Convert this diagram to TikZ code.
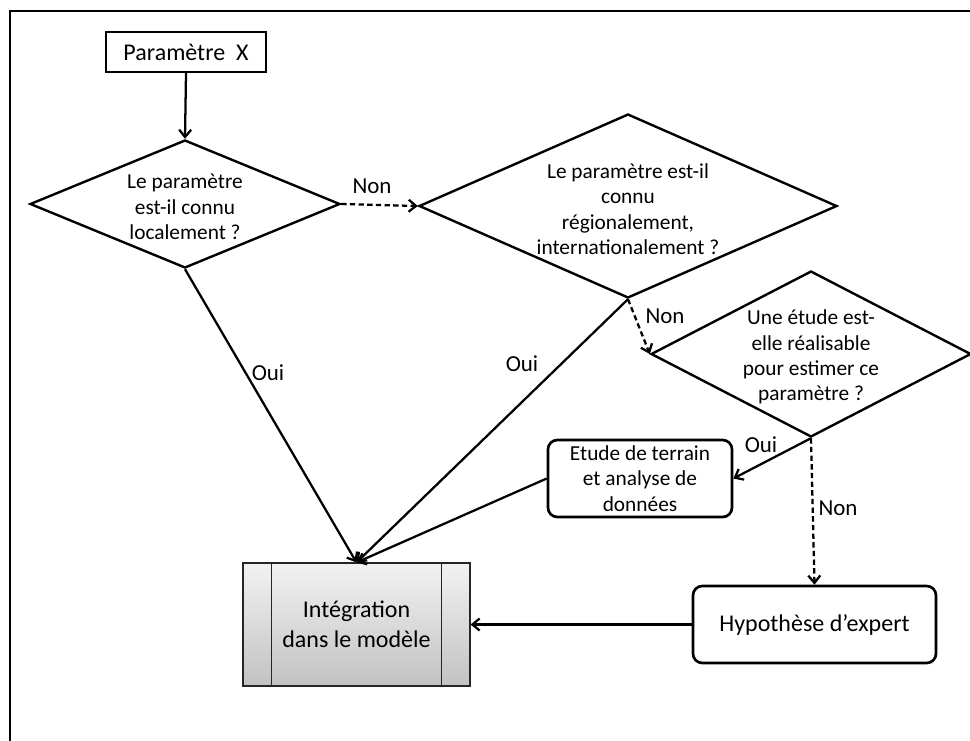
\documentclass[tikz,border=0pt]{standalone}
\usepackage{fontspec}
\setmainfont{Carlito}
\usetikzlibrary{shapes.geometric,arrows.meta}

\begin{document}
\begin{tikzpicture}[x=0.75pt,y=0.75pt,yscale=-1,
  smalltxt/.style={inner sep=0pt,align=center,font=\fontsize{16}{19}\selectfont},
  bigtxt/.style={inner sep=0pt,align=center,font=\fontsize{18}{22.5}\selectfont},
  lbl/.style={inner sep=0pt,font=\fontsize{17.2}{20}\selectfont},
  decision/.style={diamond,draw,line width=1.8pt,inner sep=0pt},
  startbox/.style={rectangle,draw,line width=1.8pt},
  roundbox/.style={rectangle,draw,line width=2pt,rounded corners=7pt},
  processbox/.style={rectangle,draw=black!85,line width=0.8pt,top color=gray!10,bottom color=gray!48},
  flow/.style={line width=1.7pt,-{Straight Barb[length=5.5pt,width=9pt]}},
  noflow/.style={flow,dash pattern=on 4pt off 2.5pt}]

\useasboundingbox (0,0) rectangle (970,740);

%Frame
\draw [line width=1.8pt] (10,745) -- (10,11) -- (975,11) ;

%Start
\node [startbox,minimum width=120pt,minimum height=30pt,bigtxt] (param) at (186,52) {Paramètre~~X};

%Decisions
\node [decision,minimum width=232.5pt,minimum height=96pt] (d1) at (185,204) {};
\node [smalltxt] (d1txt) at (185,207) {Le paramètre\\est-il connu\\localement ?};
\node [decision,minimum width=313.5pt,minimum height=138pt] (d2) at (628,206) {};
\node [smalltxt] (d2txt) at (628,209) {Le paramètre est-il\\connu\\régionalement,\\internationalement ?};
\node [decision,minimum width=240pt,minimum height=124.5pt] (d3) at (811,354) {};
\node [smalltxt] (d3txt) at (811,357) {Une étude est-\\elle réalisable\\pour estimer ce\\paramètre ?};

%Boxes
\node [roundbox,minimum width=138pt,minimum height=57.75pt,smalltxt] (etude) at (640,478.5) {Etude de terrain\\et analyse de\\données};
\node [roundbox,minimum width=182.25pt,minimum height=57.75pt,bigtxt] (hyp) at (814.5,624.5) {Hypothèse d’expert};
\node [processbox,minimum width=170.25pt,minimum height=92.25pt,bigtxt] (integ) at (356.5,624.5) {Intégration\\dans le modèle};
\draw [draw=black!85,line width=0.8pt] ([xshift=21.75pt]integ.north west) -- ([xshift=21.75pt]integ.south west) ;
\draw [draw=black!85,line width=0.8pt] ([xshift=-21.75pt]integ.north east) -- ([xshift=-21.75pt]integ.south east) ;

%Connectors
\draw [flow] (param.south) -- (d1.north) ;
\draw [noflow] (d1.east) -- (d2.west) ;
\draw [flow] (d1.south) -- (integ.north) ;
\draw [flow] (d2.south) -- (integ.north) ;
\draw [noflow] (d2.south) -- (d3.west) ;
\draw [flow] (d3.south) -- (etude.east) ;
\draw [noflow] (d3.south) -- (hyp.north) ;
\draw [flow] (etude.west) -- (integ.north) ;
\draw [flow] (hyp.west) -- (integ.east) ;

% Text Node
\node [lbl] (non1) at (372,186) {Non};
\node [lbl] (non2) at (665,316) {Non};
\node [lbl] (non3) at (838,508) {Non};
\node [lbl] (oui1) at (268,373) {Oui};
\node [lbl] (oui2) at (522,364) {Oui};
\node [lbl] (oui3) at (761,445) {Oui};

\end{tikzpicture}
\end{document}
